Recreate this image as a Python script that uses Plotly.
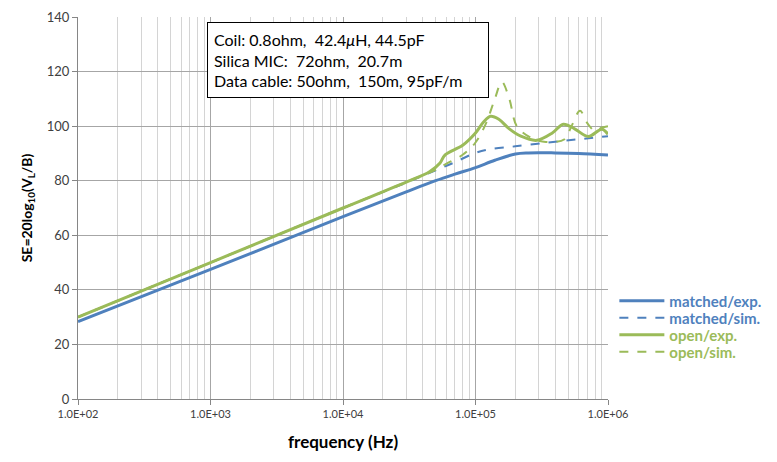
import plotly.graph_objects as go

# ---- data ----
f_mexp = [100, 1e3, 1e4, 3e4, 5e4, 7e4, 1e5, 1.4e5, 2e5, 2.5e5, 4e5, 6e5, 1e6]
v_mexp = [28.4, 47.5, 66.8, 75.9, 80.0, 82.4, 84.8, 87.5, 89.8, 90.2, 90.2, 90.0, 89.4]

f_msim = [100, 1e3, 1e4, 3e4, 5e4, 7e4, 1e5, 1.3e5, 2e5, 3.5e5, 6e5, 1e6]
v_msim = [30, 50, 70, 79.3, 83.8, 86.8, 90.2, 91.6, 92.6, 94.0, 95.2, 96.3]

f_oexp = [100, 1e3, 1e4, 3e4, 4.5e4, 5.4e4, 5.9e4, 8e4, 1e5, 1.15e5, 1.3e5, 1.5e5,
          1.8e5, 2.2e5, 2.9e5, 3.8e5, 4.6e5, 5.6e5, 7.1e5, 9e5, 1e6]
v_oexp = [30, 50, 70, 79.5, 83.3, 86.5, 89.5, 93.0, 97.5, 101.5, 103.6, 102.5,
          99.0, 96.3, 94.8, 97.5, 100.7, 99.0, 96.2, 98.9, 97.0]

f_osim = [100, 1e3, 1e4, 3e4, 5e4, 6e4, 8e4, 1e5, 1.2e5, 1.4e5, 1.58e5, 1.8e5, 2.05e5,
          2.6e5, 3.4e5, 4.7e5, 5.3e5, 6.15e5, 7e5, 8e5, 9e5, 1e6]
v_osim = [30, 50, 70, 79.5, 84.0, 86.2, 89.5, 94.0, 101.0, 110.0, 116.2, 110.0, 100.0,
          95.8, 94.2, 95.2, 100.0, 105.6, 101.0, 98.2, 99.5, 100.0]

series_names = ["matched/exp.", "matched/sim.", "open/exp.", "open/sim."]

x_tickvals = [1e2, 1e3, 1e4, 1e5, 1e6]
x_ticktext = ["1.0E+02", "1.0E+03", "1.0E+04", "1.0E+05", "1.0E+06"]
y_tickvals = [0, 20, 40, 60, 80, 100, 120, 140]

BLUE = "#4F81BD"
GREEN = "#9BBB59"
FONT = "Lato, 'Open Sans', sans-serif"

specs = [
    (f_mexp, v_mexp, BLUE, 3, "solid"),
    (f_msim, v_msim, BLUE, 2, "dash"),
    (f_oexp, v_oexp, GREEN, 3, "solid"),
    (f_osim, v_osim, GREEN, 2, "dash"),
]
legend_ids = ["legend", "legend2", "legend3", "legend4"]
legend_y = [0.2565, 0.212, 0.1675, 0.123]

fig = go.Figure()
for (fx, fy, col, w, dash), nm, lid in zip(specs, series_names, legend_ids):
    fig.add_trace(go.Scatter(x=fx, y=fy, mode="lines", line_shape="spline",
                             line=dict(color=col, width=w, dash=dash),
                             name=f"<b><span style='color:{col}'>{nm}</span></b>",
                             legend=lid, showlegend=True))

minor_vals = [m * 10 ** e for e in range(2, 6) for m in range(2, 10)]

fig.update_xaxes(type="log", range=[2, 6], tickmode="array", tickvals=x_tickvals,
                 ticktext=x_ticktext, showgrid=True, gridcolor="#A6A6A6", gridwidth=1,
                 minor=dict(tickmode="array", tickvals=minor_vals, showgrid=True,
                            gridcolor="#D4D4D4", gridwidth=1, ticks=""),
                 showline=True, linecolor="#868686", linewidth=1,
                 ticks="outside", ticklen=5, tickcolor="#868686",
                 tickfont=dict(family=FONT, size=11, color="#404040"),
                 title=dict(text="<b>frequency (Hz)</b>", font=dict(family=FONT, size=17, color="black"),
                            standoff=16),
                 zeroline=False)
fig.update_yaxes(range=[0, 140], tickmode="array", tickvals=y_tickvals,
                 showgrid=True, gridcolor="#A6A6A6", gridwidth=1,
                 showline=True, linecolor="#868686", linewidth=1,
                 ticks="outside", ticklen=5, tickcolor="#868686",
                 tickfont=dict(family=FONT, size=13, color="#404040"),
                 title=dict(text="<b>SE=20log<sub>10</sub>(V<sub>L</sub>/B)</b>",
                            font=dict(family=FONT, size=14, color="black"), standoff=10),
                 zeroline=False)

fig.add_annotation(xref="paper", yref="paper", x=0.2434, y=0.988, xanchor="left", yanchor="top",
                   text="Coil: 0.8ohm,  42.4<i>μ</i>H, 44.5pF<br>Silica MIC:  72ohm,  20.7m<br>"
                        "Data cable: 50ohm,  150m, 95pF/m",
                   showarrow=False, align="left", bgcolor="white", bordercolor="black",
                   borderwidth=1, borderpad=6, width=268, height=62,
                   font=dict(family=FONT, size=16, color="black"))

layout_legends = {}
for lid, ly in zip(legend_ids, legend_y):
    layout_legends[lid] = dict(x=1.012, y=ly, xanchor="left", yanchor="middle",
                               bgcolor="rgba(0,0,0,0)", font=dict(family=FONT, size=15),
                               itemwidth=45, visible=True)

fig.update_layout(width=777, height=462,
                  margin=dict(l=78, r=169, t=17, b=63, autoexpand=False),
                  paper_bgcolor="white", plot_bgcolor="white", showlegend=True,
                  font=dict(family=FONT), **layout_legends)

fig.write_html("out.html")
